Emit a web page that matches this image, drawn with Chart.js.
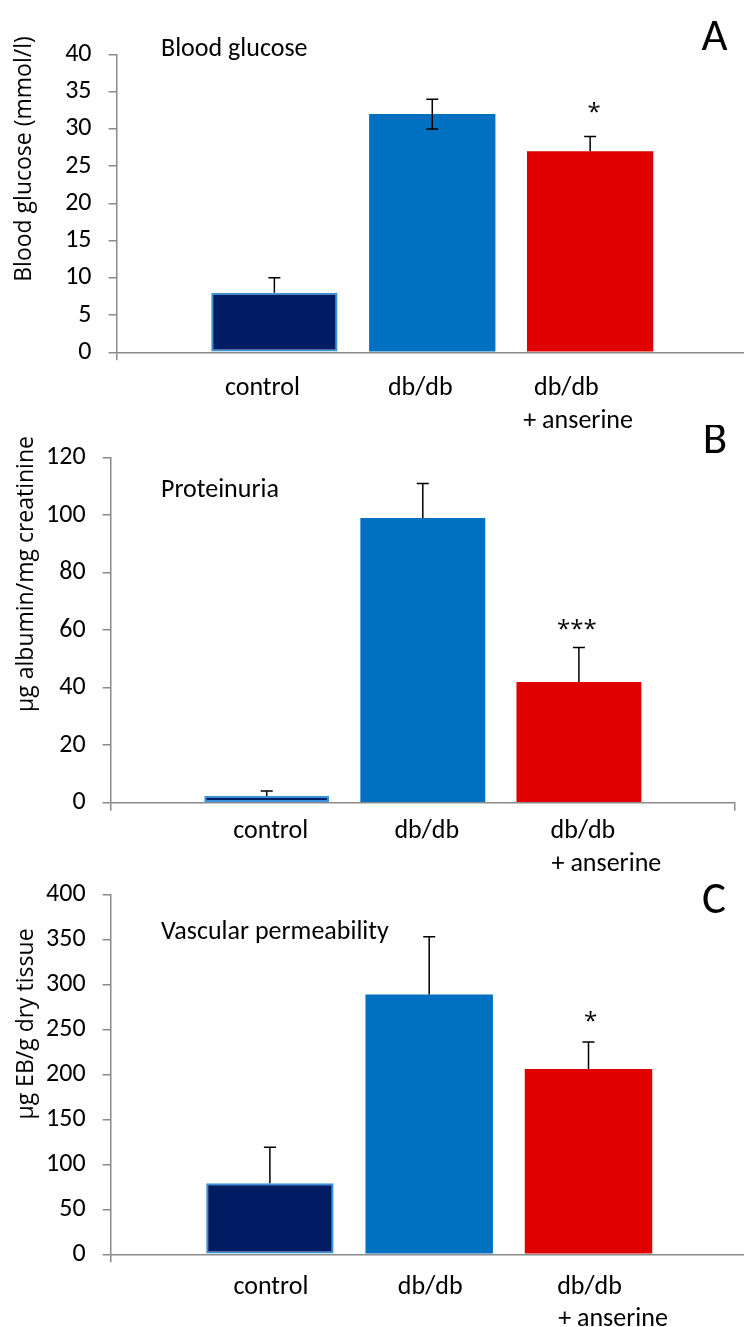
<!DOCTYPE html>
<html><head><meta charset="utf-8">
<script src="https://cdn.jsdelivr.net/npm/chart.js@4.4.1/dist/chart.umd.min.js"></script>
<style>
html,body{margin:0;padding:0;background:#fff;width:744px;height:1327px;overflow:hidden;position:relative}
canvas{position:absolute;left:0}
</style></head><body>
<canvas id="cA"></canvas><canvas id="cB"></canvas><canvas id="cC"></canvas>
<script>
// ---------- data ----------
const categories = ['control', 'db/db', 'db/db + anserine'];

const glucoseMean    = [8, 32, 27];
const glucoseErrUp   = [2, 2, 2];
const glucoseErrDown = [0, 2, 0];
const glucoseSig     = ['', '', '*'];
const glucoseTicks   = [0, 5, 10, 15, 20, 25, 30, 35, 40];

const proteinMean    = [2.3, 99, 42];
const proteinErrUp   = [1.8, 12, 12];
const proteinErrDown = [0, 0, 0];
const proteinSig     = ['', '', '***'];
const proteinTicks   = [0, 20, 40, 60, 80, 100, 120];

const permMean       = [79, 289, 206];
const permErrUp      = [40, 64, 30];
const permErrDown    = [0, 0, 0];
const permSig        = ['', '', '*'];
const permTicks      = [0, 50, 100, 150, 200, 250, 300, 350, 400];

// ---------- styles ----------
const barColors   = ['#001c63', '#0070c0', '#e00000'];
const barBorders  = ['#3a92da', '#0070c0', '#e00000'];
const barBorderW  = [2, 0, 0];
const axisGray    = '#8a8a8a';
const CAL = "Carlito, Calibri, 'Liberation Sans Narrow', 'DejaVu Sans Condensed', sans-serif";
const OPEN = "'Open Sans', 'Noto Sans', sans-serif";

const panels = [
  { id:'cA', top:0, h:440, w:760, axisLeft:116.5, plotRight:752.5, yMaxAbs:54.5, y0Abs:352.3,
    mean:glucoseMean, up:glucoseErrUp, down:glucoseErrDown, sig:glucoseSig, ticks:glucoseTicks,
    title:'Blood glucose', titleX:161, titleY:56, letter:'A', letterX:714.5, letterY:50,
    yTitle:'Blood glucose (mmol/l)', yTitleX:24, yTitleY:159,
    labelOffset:-12, labelPad:12, trail:4, lead:0, starGap:16, starDx:4 },
  { id:'cB', top:425, h:450, w:744, axisLeft:110.6, plotRight:735, yMaxAbs:452.3, y0Abs:802.7,
    mean:proteinMean, up:proteinErrUp, down:proteinErrDown, sig:proteinSig, ticks:proteinTicks,
    title:'Proteinuria', titleX:161, titleY:497, letter:'B', letterX:715, letterY:453,
    yTitle:'µg albumin/mg creatinine', yTitleX:26, yTitleY:574,
    labelOffset:4, labelPad:5, trail:0, lead:8, starGap:10, starDx:-2 },
  { id:'cC', top:862, h:465, w:760, axisLeft:110.6, plotRight:747.8, yMaxAbs:877.3, y0Abs:1254.3,
    mean:permMean, up:permErrUp, down:permErrDown, sig:permSig, ticks:permTicks,
    title:'Vascular permeability', titleX:161, titleY:938.5, letter:'C', letterX:714, letterY:913,
    yTitle:'µg EB/g dry tissue', yTitleX:26, yTitleY:1024,
    labelOffset:1, labelPad:8.5, trail:0, lead:8, starGap:13.5, starDx:2 }
];

const overlay = {
  id: 'overlay',
  afterDatasetsDraw(chart, args, o) {
    const p = o.panel;
    const ctx = chart.ctx;
    const ys = chart.scales.y;
    const meta = chart.getDatasetMeta(0);
    const off = p.top;
    ctx.save();
    ctx.strokeStyle = '#000';
    ctx.lineWidth = 1.5;
    ctx.fillStyle = '#000';
    meta.data.forEach((bar, i) => {
      const k = i - 1;
      if (k < 0 || k >= p.mean.length) return;
      const v = p.mean[k], x = bar.x, cap = 6;
      const yHi = ys.getPixelForValue(v + p.up[k]);
      ctx.beginPath();
      ctx.moveTo(x, bar.y); ctx.lineTo(x, yHi);
      ctx.moveTo(x - cap, yHi); ctx.lineTo(x + cap, yHi);
      if (p.down[k]) {
        const yLo = ys.getPixelForValue(v - p.down[k]);
        ctx.moveTo(x, bar.y); ctx.lineTo(x, yLo);
        ctx.moveTo(x - cap, yLo); ctx.lineTo(x + cap, yLo);
      }
      ctx.stroke();
      if (p.sig[k]) {
        ctx.font = '24px ' + OPEN;
        ctx.textAlign = 'center';
        ctx.textBaseline = 'alphabetic';
        ctx.fillText(p.sig[k], x + p.starDx, yHi - p.starGap);
      }
    });
    // panel title
    ctx.font = '26px ' + CAL;
    ctx.textAlign = 'left';
    ctx.textBaseline = 'alphabetic';
    ctx.fillText(p.title, p.titleX, p.titleY - off);
    // panel letter
    ctx.font = '45px ' + CAL;
    ctx.textAlign = 'center';
    ctx.fillText(p.letter, p.letterX, p.letterY - off);
    // y-axis title
    ctx.translate(p.yTitleX, p.yTitleY - off);
    ctx.rotate(-Math.PI / 2);
    ctx.font = '23px ' + OPEN;
    ctx.textAlign = 'center';
    ctx.textBaseline = 'middle';
    ctx.fillText(p.yTitle, 0, 0);
    ctx.restore();
  }
};

function makeLabels(p) {
  return ['', ...categories.map(c => {
    const parts = c.split(' + ');
    if (parts.length === 1) return c;
    return [parts[0] + ' '.repeat(p.trail), ' '.repeat(p.lead) + '+ ' + parts[1]];
  }), ''];
}

panels.forEach(p => {
  const cv = document.getElementById(p.id);
  cv.width = p.w; cv.height = p.h;
  cv.style.top = p.top + 'px';
  cv.style.width = p.w + 'px'; cv.style.height = p.h + 'px';
  const xHeight = p.h - (p.y0Abs - p.top);
  new Chart(cv, {
    type: 'bar',
    data: {
      labels: makeLabels(p),
      datasets: [{
        data: [null, ...p.mean, null],
        backgroundColor: ['transparent', ...barColors, 'transparent'],
        borderColor: ['transparent', ...barBorders, 'transparent'],
        borderWidth: [0, ...barBorderW, 0],
        borderSkipped: false,
        categoryPercentage: 1,
        barPercentage: 0.8
      }]
    },
    options: {
      responsive: false,
      animation: false,
      events: [],
      layout: { padding: { left: 0, top: p.yMaxAbs - p.top, right: p.w - p.plotRight, bottom: 0 } },
      plugins: { legend: { display: false }, tooltip: { enabled: false }, overlay: { panel: p } },
      scales: {
        x: {
          type: 'category',
          offset: false,
          afterFit: s => { s.height = xHeight; },
          grid: {
            offset: false,
            drawOnChartArea: false,
            drawTicks: true,
            tickLength: 8,
            lineWidth: 1.5,
            color: c => (c.index === 0 || c.index === 4) ? axisGray : 'rgba(0,0,0,0)'
          },
          border: { display: true, color: axisGray, width: 1.5 },
          ticks: {
            autoSkip: false, maxRotation: 0, minRotation: 0,
            padding: p.labelPad, labelOffset: p.labelOffset,
            color: '#000', font: { family: CAL, size: 26, lineHeight: 1.25 }
          }
        },
        y: {
          min: p.ticks[0], max: p.ticks[p.ticks.length - 1],
          afterFit: s => { s.width = p.axisLeft; },
          afterBuildTicks: s => { s.ticks = p.ticks.map(v => ({ value: v })); },
          grid: { drawOnChartArea: false, drawTicks: true, tickLength: 8, lineWidth: 1.5, color: axisGray },
          border: { display: true, color: axisGray, width: 1.5 },
          ticks: { padding: 17, color: '#000', font: { family: CAL, size: 26 } }
        }
      }
    },
    plugins: [overlay]
  });
});
</script>
</body></html>
